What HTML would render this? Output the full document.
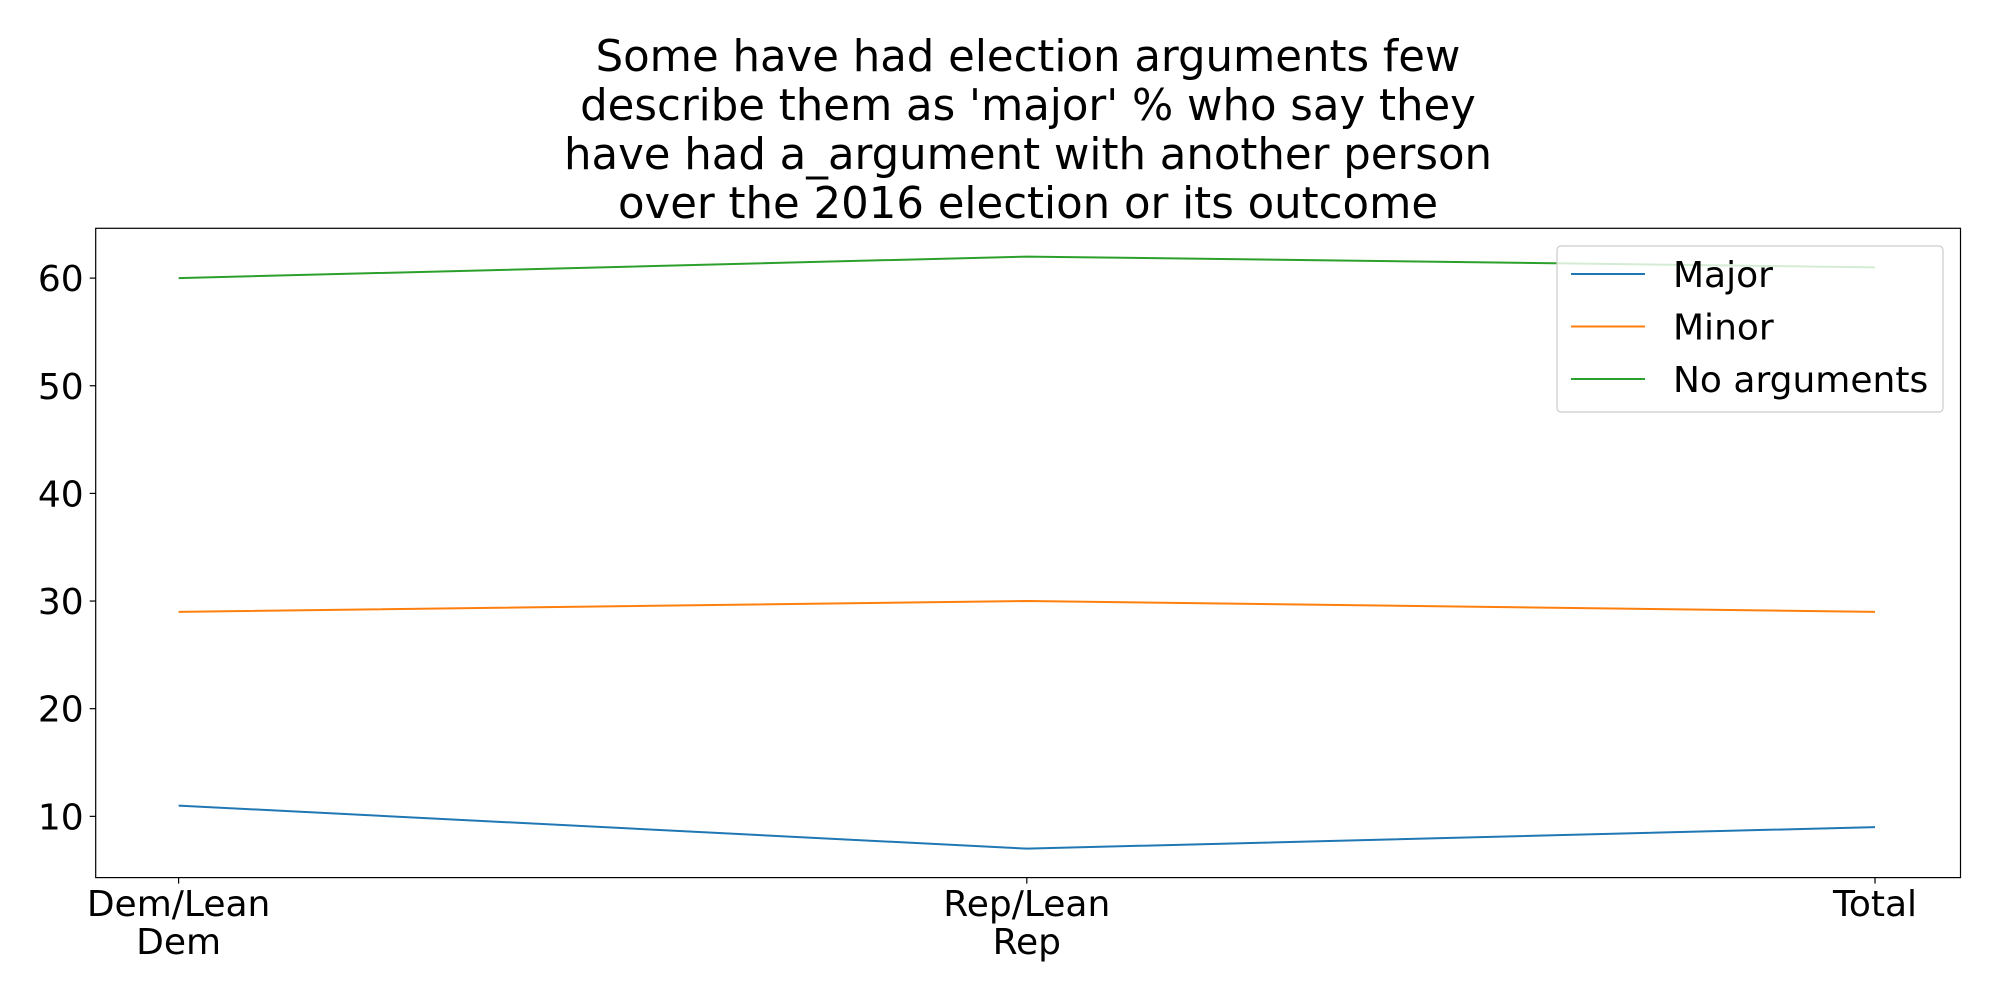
<!DOCTYPE html>
<html><head><meta charset="utf-8"><style>
body{margin:0;background:#fff;}
svg{display:block;font-family:"DejaVu Sans","Liberation Sans",sans-serif;}
</style></head><body>
<svg id="chart" width="2000" height="1000" viewBox="0 0 2000 1000">
<g font-size="43.4" text-anchor="middle" fill="#000">
<text x="1028" y="71">Some have had election arguments few</text>
<text x="1028" y="120">describe them as 'major' % who say they</text>
<text x="1028" y="169">have had a_argument with another person</text>
<text x="1028" y="218">over the 2016 election or its outcome</text>
</g>
<g id="plot"></g>
</svg>
<script>
const categories=[["Dem/Lean","Dem"],["Rep/Lean","Rep"],["Total"]];
const seriesNames=["Major","Minor","No arguments"];
const major=[11,7,9];
const minor=[29,30,29];
const noArgs=[60,62,61];
const yTicks=[10,20,30,40,50,60];
const colors=["#1f77b4","#ff7f0e","#2ca02c"];
const L=95.7,R=1960.5,T=228.3,B=877.6;
const xPos=i=>178.6+i*(1875-178.6)/(categories.length-1);
const yPos=v=>278.1+(60-v)*10.765;
const NS="http://www.w3.org/2000/svg";
const g=document.getElementById('plot');
function mk(t,a){const e=document.createElementNS(NS,t);for(const k in a)e.setAttribute(k,a[k]);g.appendChild(e);return e;}
[major,minor,noArgs].forEach((s,si)=>{
 const p=mk('polyline',{points:s.map((v,i)=>xPos(i)+','+yPos(v)).join(' '),fill:'none',stroke:colors[si],'stroke-width':2});
 
 
});
const frame=mk('rect',{x:L,y:T,width:R-L,height:B-T,fill:'none',stroke:'#000','stroke-width':1.2});


yTicks.forEach(v=>{
 const y=yPos(v);
 mk('line',{x1:L-6,x2:L,y1:y,y2:y,stroke:'#000','stroke-width':1.2});
 const t=mk('text',{x:L-12,y:y+13,'text-anchor':'end','font-size':36});
 t.textContent=v;
 
 
});
categories.forEach((c,i)=>{
 const x=xPos(i);
 mk('line',{x1:x,x2:x,y1:B,y2:B+6,stroke:'#000','stroke-width':1.2});
 c.forEach((line,j)=>{
  const t=mk('text',{x:x,y:916+j*38,'text-anchor':'middle','font-size':36});
  t.textContent=line;
  
  
 });
});
const lg=mk('rect',{x:1557,y:246,width:386,height:166,rx:4,fill:'#fff','fill-opacity':0.8,stroke:'#ccc','stroke-width':1.2});


seriesNames.forEach((n,i)=>{
 const y=274+i*52.5;
 mk('line',{x1:1571,x2:1645,y1:y,y2:y,stroke:colors[i],'stroke-width':2});
 const t=mk('text',{x:1673,y:y+13,'font-size':36});
 t.textContent=n;
 
 
});
</script>
</body></html>
